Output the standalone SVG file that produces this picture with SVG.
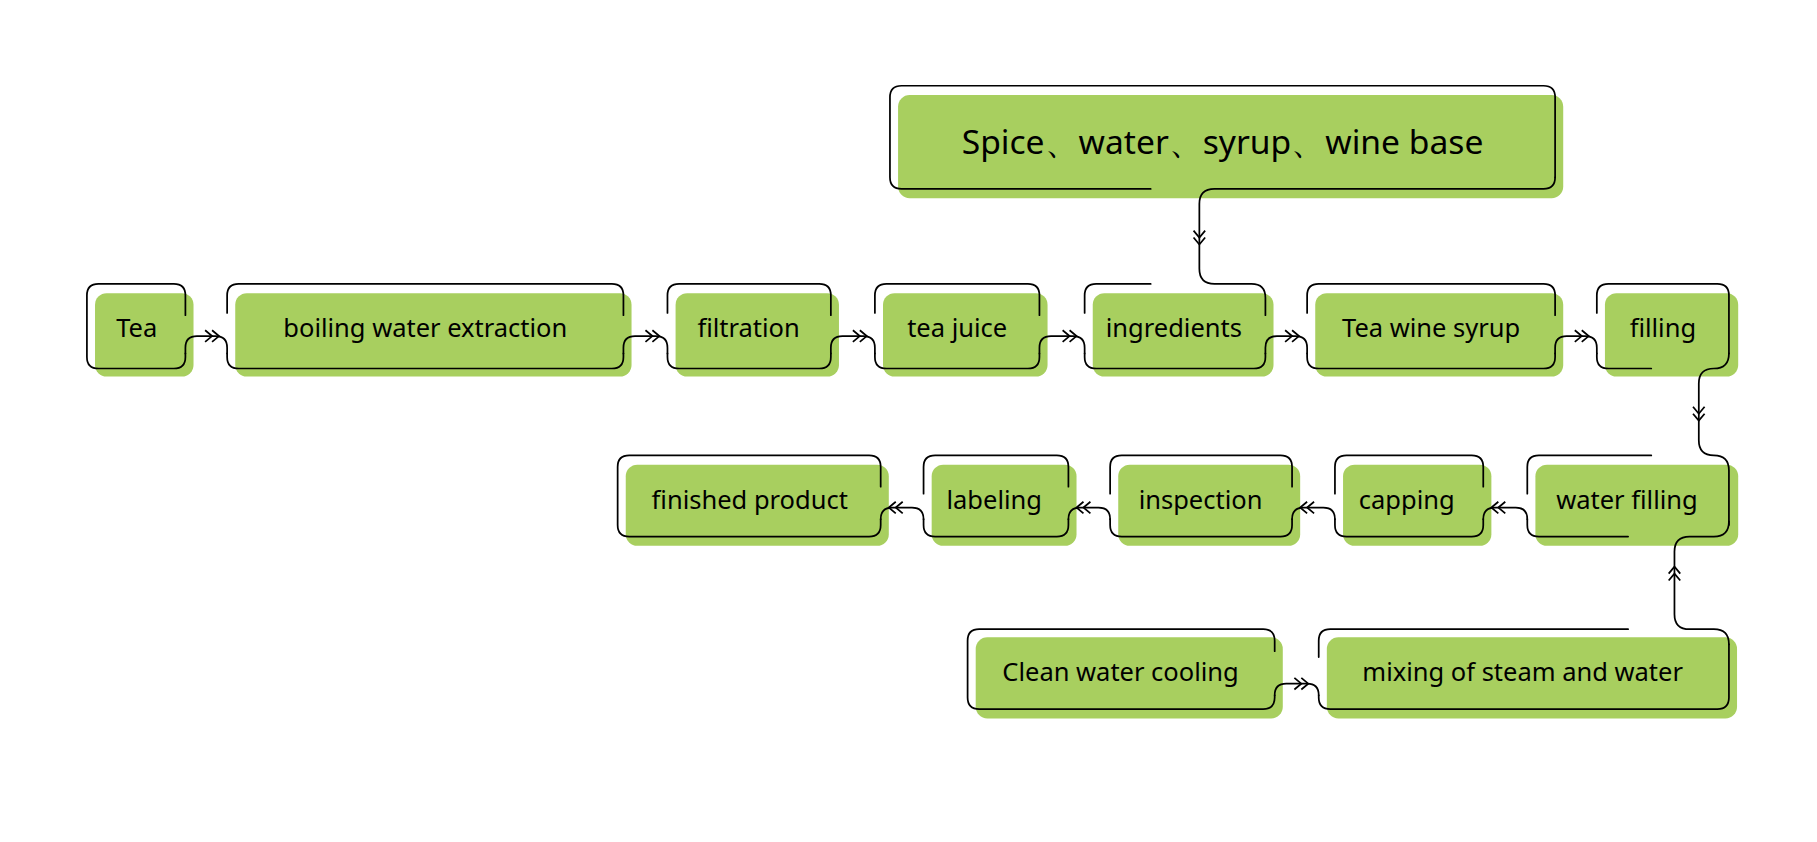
<svg xmlns="http://www.w3.org/2000/svg" width="1817" height="842" viewBox="0 0 1817 842">
<style>
.g{fill:#a8cf5f}
.o{fill:none;stroke:#000;stroke-width:1.5;stroke-linecap:round}
.t{font-family:"Noto Sans","Liberation Sans",sans-serif;font-size:22px;fill:#000;text-anchor:middle;dominant-baseline:central}
.big{font-size:29px}
</style>
<defs>
<path id="ar" d="M-11,-5 L-5,0 L-11,5 M-5,-5 L1,0 L-5,5" fill="none" stroke="#000" stroke-width="1.5"/>
</defs>
<rect width="1817" height="842" fill="#fff"/>
<g transform="scale(1.1588)">
<g id="n-top"><rect class="g" x="775" y="82" width="574" height="89" rx="10"/><path class="o" d="M993,163 H778 Q768,163 768,153 V84 Q768,74 778,74 H1332 Q1342,74 1342,84 V153"/><text class="t big" x="1055" y="122">Spice、water、syrup、wine base</text></g>
<g id="n-tea"><rect class="g" x="82" y="253" width="85" height="72" rx="10"/><path class="o" d="M160,272 V255 Q160,245 150,245 H85 Q75,245 75,255 V308 Q75,318 85,318 H150 Q160,318 160,308 V305"/><text class="t" x="118" y="282">Tea</text></g>
<g id="n-boil"><rect class="g" x="203" y="253" width="342" height="72" rx="10"/><path class="o" d="M196,270 V255 Q196,245 206,245 H528 Q538,245 538,255 V272 M538,305 V308 Q538,318 528,318 H206 Q196,318 196,308 V305"/><text class="t" x="367" y="282">boiling water extraction</text></g>
<g id="n-filt"><rect class="g" x="583" y="253" width="141" height="72" rx="10"/><path class="o" d="M576,270 V255 Q576,245 586,245 H707 Q717,245 717,255 V272 M717,305 V308 Q717,318 707,318 H586 Q576,318 576,308 V305"/><text class="t" x="646" y="282">filtration</text></g>
<g id="n-juice"><rect class="g" x="762" y="253" width="142" height="72" rx="10"/><path class="o" d="M755,270 V255 Q755,245 765,245 H887 Q897,245 897,255 V272 M897,305 V308 Q897,318 887,318 H765 Q755,318 755,308 V305"/><text class="t" x="826" y="282">tea juice</text></g>
<g id="n-ingr"><rect class="g" x="943" y="253" width="156" height="72" rx="10"/><path class="o" d="M936,270 V255 Q936,245 946,245 H993 M1092,305 V308 Q1092,318 1082,318 H946 Q936,318 936,308 V305"/><text class="t" x="1013" y="282">ingredients</text></g>
<g id="n-syrup"><rect class="g" x="1135" y="253" width="214" height="72" rx="10"/><path class="o" d="M1128,270 V255 Q1128,245 1138,245 H1332 Q1342,245 1342,255 V272 M1342,305 V308 Q1342,318 1332,318 H1138 Q1128,318 1128,308 V305"/><text class="t" x="1235" y="282">Tea wine syrup</text></g>
<g id="n-fill"><rect class="g" x="1385" y="253" width="115" height="72" rx="10"/><path class="o" d="M1378,270 V255 Q1378,245 1388,245 H1482 Q1492,245 1492,255 V305 M1425,318 H1388 Q1378,318 1378,308 V305"/><text class="t" x="1435" y="282">filling</text></g>
<g id="n-water"><rect class="g" x="1325" y="401" width="175" height="70" rx="10"/><path class="o" d="M1318,426 V403 Q1318,393 1328,393 H1425 M1405,463 H1328 Q1318,463 1318,453 V448"/><text class="t" x="1404" y="431">water filling</text></g>
<g id="n-cap"><rect class="g" x="1159" y="401" width="128" height="70" rx="10"/><path class="o" d="M1152,426 V403 Q1152,393 1162,393 H1270 Q1280,393 1280,403 V420 M1280,448 V453 Q1280,463 1270,463 H1162 Q1152,463 1152,453 V448"/><text class="t" x="1214" y="431">capping</text></g>
<g id="n-insp"><rect class="g" x="965" y="401" width="157" height="70" rx="10"/><path class="o" d="M958,426 V403 Q958,393 968,393 H1105 Q1115,393 1115,403 V420 M1115,448 V453 Q1115,463 1105,463 H968 Q958,463 958,453 V448"/><text class="t" x="1036" y="431">inspection</text></g>
<g id="n-label"><rect class="g" x="804" y="401" width="125" height="70" rx="10"/><path class="o" d="M797,426 V403 Q797,393 807,393 H912 Q922,393 922,403 V420 M922,448 V453 Q922,463 912,463 H807 Q797,463 797,453 V448"/><text class="t" x="858" y="431">labeling</text></g>
<g id="n-fin"><rect class="g" x="540" y="401" width="227" height="70" rx="10"/><path class="o" d="M760,420 V403 Q760,393 750,393 H543 Q533,393 533,403 V453 Q533,463 543,463 H750 Q760,463 760,453 V448"/><text class="t" x="647" y="431">finished product</text></g>
<g id="n-clean"><rect class="g" x="842" y="550" width="265" height="70" rx="10"/><path class="o" d="M1100,562 V553 Q1100,543 1090,543 H845 Q835,543 835,553 V602 Q835,612 845,612 H1090 Q1100,612 1100,602 V600"/><text class="t" x="967" y="579">Clean water cooling</text></g>
<g id="n-mix"><rect class="g" x="1145" y="550" width="354" height="70" rx="10"/><path class="o" d="M1138,567 V553 Q1138,543 1148,543 H1405 M1492,556 V602 Q1492,612 1482,612 H1148 Q1138,612 1138,602 V600"/><text class="t" x="1314" y="579">mixing of steam and water</text></g>
<g id="connectors">
<path class="o" d="M160,305 V300 Q160,290 170,290 H186 Q196,290 196,300 V305"/><use href="#ar" transform="translate(188,290)"/>
<path class="o" d="M538,305 V300 Q538,290 548,290 H566 Q576,290 576,300 V305"/><use href="#ar" transform="translate(568,290)"/>
<path class="o" d="M717,305 V300 Q717,290 727,290 H745 Q755,290 755,300 V305"/><use href="#ar" transform="translate(747,290)"/>
<path class="o" d="M897,305 V300 Q897,290 907,290 H926 Q936,290 936,300 V305"/><use href="#ar" transform="translate(928,290)"/>
<path class="o" d="M1092,305 V300 Q1092,290 1102,290 H1118 Q1128,290 1128,300 V305"/><use href="#ar" transform="translate(1120,290)"/>
<path class="o" d="M1342,305 V300 Q1342,290 1352,290 H1368 Q1378,290 1378,300 V305"/><use href="#ar" transform="translate(1370,290)"/>
<path class="o" d="M1342,153 Q1342,163 1332,163 H1048 Q1035,163 1035,176 V232 Q1035,245 1048,245 H1080 Q1092,245 1092,257 V272"/><use href="#ar" transform="translate(1035,210) rotate(90)"/>
<path class="o" d="M1492,305 Q1492,318 1479,318 Q1466,318 1466,331 V380 Q1466,393 1479,393 Q1492,393 1492,406 V453"/><use href="#ar" transform="translate(1466,362) rotate(90)"/>
<path class="o" d="M1318,448 Q1318,438 1308,438 H1290 Q1280,438 1280,448"/><use href="#ar" transform="translate(1288,438) rotate(180)"/>
<path class="o" d="M1152,448 Q1152,438 1142,438 H1125 Q1115,438 1115,448"/><use href="#ar" transform="translate(1123,438) rotate(180)"/>
<path class="o" d="M958,448 Q958,438 948,438 H932 Q922,438 922,448"/><use href="#ar" transform="translate(930,438) rotate(180)"/>
<path class="o" d="M797,448 Q797,438 787,438 H770 Q760,438 760,448"/><use href="#ar" transform="translate(768,438) rotate(180)"/>
<path class="o" d="M1492,556 Q1492,543 1479,543 H1458 Q1445,543 1445,530 V476 Q1445,463 1458,463 H1479 Q1492,463 1492,450"/><use href="#ar" transform="translate(1445,490) rotate(-90)"/>
<path class="o" d="M1100,600 Q1100,590 1110,590 H1128 Q1138,590 1138,600"/><use href="#ar" transform="translate(1128,590)"/>
</g>
</g>
</svg>
